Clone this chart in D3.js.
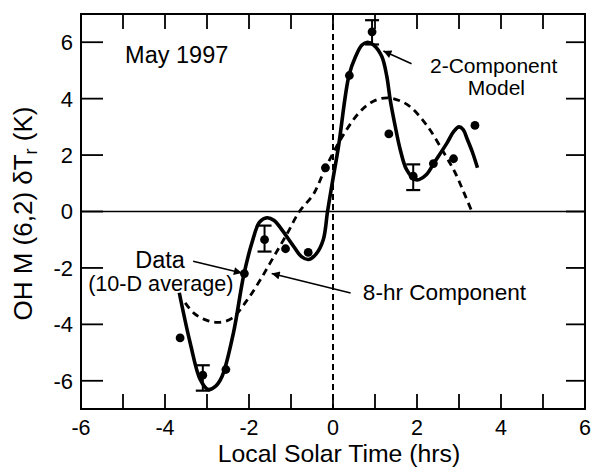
<!DOCTYPE html>
<html>
<head>
<meta charset="utf-8">
<script src="https://cdn.jsdelivr.net/npm/d3@7"></script>
<style>
  body { margin: 0; background: #fff; }
  svg text { font-family: "Liberation Sans", Arial, Helvetica, sans-serif; fill: #000; }
</style>
</head>
<body>
<div class="chart"></div>
<script>
// data (hours, K)
const obs_x = [-3.64, -3.10, -2.55, -2.11, -1.63, -1.13, -0.59, -0.18, 0.39, 0.93, 1.33, 1.91, 2.39, 2.87, 3.38];
const obs_y = [-4.48, -5.80, -5.60, -2.20, -1.00, -1.32, -1.45, 1.55, 4.82, 6.37, 2.75, 1.25, 1.70, 1.87, 3.05];

// error bars: [x, low, high]
const err_bars = [
    [-3.10, -6.35, -5.45],
    [-1.63, -1.42, -0.50],
    [0.93, 5.92, 6.78],
    [1.91, 0.76, 1.67]
];

// 2-component model, traced
const model_x = [-3.66, -3.40, -3.16, -2.97, -2.80, -2.64, -2.37, -2.13, -1.93, -1.75, -1.57, -1.40, -1.25, -0.94, -0.75, -0.58, -0.40, -0.23, -0.13, -0.03, 0.13, 0.38, 0.54, 0.69, 0.82, 0.97, 1.16, 1.28, 1.36, 1.48, 1.60, 1.75, 1.95, 2.05, 2.22, 2.41, 2.72, 2.88, 3.00, 3.10, 3.20, 3.32, 3.44];
const model_y = [-2.88, -4.66, -5.96, -6.31, -6.20, -5.84, -4.30, -2.29, -1.11, -0.38, -0.22, -0.32, -0.58, -1.23, -1.60, -1.70, -1.50, -0.99, 0.00, 0.90, 2.30, 4.82, 5.50, 5.90, 6.00, 5.90, 5.50, 4.80, 3.98, 3.03, 2.20, 1.49, 1.14, 1.13, 1.30, 1.73, 2.44, 2.85, 3.00, 2.90, 2.55, 2.10, 1.55];

// 8-hr component, traced
const comp_x = [-3.52, -3.30, -3.00, -2.72, -2.40, -2.05, -1.73, -1.41, -1.09, -0.80, -0.47, -0.19, 0.18, 0.62, 0.95, 1.29, 1.60, 1.85, 2.25, 2.64, 2.90, 3.12, 3.32];
const comp_y = [-3.24, -3.62, -3.86, -3.93, -3.78, -3.15, -2.42, -1.60, -0.78, 0.00, 0.60, 1.50, 2.55, 3.50, 3.90, 4.03, 3.92, 3.70, 3.02, 2.08, 1.40, 0.66, -0.05];

const x_ticks = d3.range(-6, 7, 1);
const x_labels = [-6, -4, -2, 0, 2, 4, 6];
const y_ticks = [-6, -4, -2, 0, 2, 4, 6];

// text notes in data units
const notes = [
    { text: "May 1997", x: -4.95, y: 5.25, size: 23.5 },
    { text: "2-Component", x: 2.31, y: 4.90, size: 21 },
    { text: "Model", x: 3.21, y: 4.13, size: 21 },
    { text: "Data", x: -4.71, y: -1.99, size: 23.5 },
    { text: "(10-D average)", x: -5.83, y: -2.80, size: 21.6 },
    { text: "8-hr Component", x: 0.71, y: -3.12, size: 22.6 }
];
// arrows: [x0, y0, x1, y1], head at the second point
const arrows = [
    [1.87, 5.24, 1.20, 5.69],
    [-3.33, -1.76, -2.17, -2.18],
    [0.42, -2.89, -1.46, -2.20]
];

const W = 591, H = 467;
const m = { top: 14, right: 6, bottom: 58, left: 81 };

const svg = d3.select(".chart")
    .append("svg")
    .attr("width", W)
    .attr("height", H);

const x = d3.scaleLinear().domain([-6, 6]).range([m.left, W - m.right]);
const y = d3.scaleLinear().domain([-7, 7]).range([H - m.bottom, m.top]);

svg.append("defs").append("marker")
    .attr("id", "head")
    .attr("viewBox", "0 0 10 10")
    .attr("refX", 10)
    .attr("refY", 5)
    .attr("markerWidth", 10)
    .attr("markerHeight", 8)
    .attr("markerUnits", "userSpaceOnUse")
    .attr("orient", "auto")
    .append("path")
    .attr("d", "M0,0 L10,5 L0,10 Z")
    .attr("fill", "#000");

// zero line and local noon line
svg.append("line")
    .attr("x1", x(-6)).attr("x2", x(6))
    .attr("y1", y(0)).attr("y2", y(0))
    .attr("stroke", "#000").attr("stroke-width", 1.3);
svg.append("line")
    .attr("x1", x(0)).attr("x2", x(0))
    .attr("y1", y(7)).attr("y2", y(-7))
    .attr("stroke", "#000").attr("stroke-width", 2)
    .attr("stroke-dasharray", "6,4");

// ticks (all inward)
const g_t = svg.append("g");
x_ticks.forEach(function(t){
    g_t.append("line").attr("x1", x(t)).attr("x2", x(t))
        .attr("y1", y(-7)).attr("y2", y(-7) - 15)
        .attr("stroke", "#000").attr("stroke-width", 1.8);
    g_t.append("line").attr("x1", x(t)).attr("x2", x(t))
        .attr("y1", y(7)).attr("y2", y(7) + 15)
        .attr("stroke", "#000").attr("stroke-width", 1.8);
});
y_ticks.forEach(function(t){
    g_t.append("line").attr("x1", x(-6)).attr("x2", x(-6) + 22)
        .attr("y1", y(t)).attr("y2", y(t))
        .attr("stroke", "#000").attr("stroke-width", 1.8);
    g_t.append("line").attr("x1", x(6)).attr("x2", x(6) - 19)
        .attr("y1", y(t)).attr("y2", y(t))
        .attr("stroke", "#000").attr("stroke-width", 1.8);
});

// frame
svg.append("rect")
    .attr("x", x(-6)).attr("y", y(7))
    .attr("width", x(6) - x(-6)).attr("height", y(-7) - y(7))
    .attr("fill", "none").attr("stroke", "#000").attr("stroke-width", 2);

// tick labels
svg.selectAll(".xl").data(x_labels).enter().append("text")
    .attr("class", "xl")
    .attr("x", d => x(d))
    .attr("y", y(-7) + 26)
    .attr("text-anchor", "middle")
    .attr("font-size", 21.5)
    .text(d => d);
svg.selectAll(".yl").data(y_ticks).enter().append("text")
    .attr("class", "yl")
    .attr("x", x(-6) - 8)
    .attr("y", d => y(d))
    .attr("dy", "0.36em")
    .attr("text-anchor", "end")
    .attr("font-size", 22)
    .text(d => d);

// axis titles
svg.append("text")
    .attr("x", (x(-6) + x(6)) / 2 + 6)
    .attr("y", 462)
    .attr("text-anchor", "middle")
    .attr("font-size", 24.8)
    .text("Local Solar Time (hrs)");

const yt = svg.append("text")
    .attr("transform", "translate(32," + (y(0) + 2) + ") rotate(-90)")
    .attr("text-anchor", "middle")
    .attr("font-size", 26);
yt.append("tspan").text("OH M (6,2) \u03b4T");
yt.append("tspan").attr("dy", 5).attr("font-size", 18).text("r");
yt.append("tspan").attr("dy", -5).text(" (K)");

// curves
const model = model_x.map((d, i) => [d, model_y[i]]);
const comp = comp_x.map((d, i) => [d, comp_y[i]]);
const line = d3.line()
    .x(d => x(d[0]))
    .y(d => y(d[1]))
    .curve(d3.curveCatmullRom.alpha(0.5));

svg.append("path")
    .attr("d", line(comp))
    .attr("fill", "none")
    .attr("stroke", "#000")
    .attr("stroke-width", 2.8)
    .attr("stroke-dasharray", "7,5");

svg.append("path")
    .attr("d", line(model))
    .attr("fill", "none")
    .attr("stroke", "#000")
    .attr("stroke-width", 3.6)
    .attr("stroke-linejoin", "round");

// error bars
const g_e = svg.append("g");
err_bars.forEach(function(e){
    g_e.append("line").attr("x1", x(e[0])).attr("x2", x(e[0]))
        .attr("y1", y(e[1])).attr("y2", y(e[2]))
        .attr("stroke", "#000").attr("stroke-width", 2);
    [e[1], e[2]].forEach(function(v){
        g_e.append("line").attr("x1", x(e[0]) - 7).attr("x2", x(e[0]) + 7)
            .attr("y1", y(v)).attr("y2", y(v))
            .attr("stroke", "#000").attr("stroke-width", 2.2);
    });
});

// data points
svg.selectAll(".dot").data(obs_x).enter().append("circle")
    .attr("class", "dot")
    .attr("cx", d => x(d))
    .attr("cy", (d, i) => y(obs_y[i]))
    .attr("r", 4.4)
    .attr("fill", "#000");

// notes and arrows
svg.selectAll(".note").data(notes).enter().append("text")
    .attr("class", "note")
    .attr("x", d => x(d.x))
    .attr("y", d => y(d.y))
    .attr("font-size", d => d.size)
    .text(d => d.text);

svg.selectAll(".arr").data(arrows).enter().append("line")
    .attr("class", "arr")
    .attr("x1", d => x(d[0])).attr("y1", d => y(d[1]))
    .attr("x2", d => x(d[2])).attr("y2", d => y(d[3]))
    .attr("stroke", "#000").attr("stroke-width", 1.6)
    .attr("marker-end", "url(#head)");
</script>
</body>
</html>
